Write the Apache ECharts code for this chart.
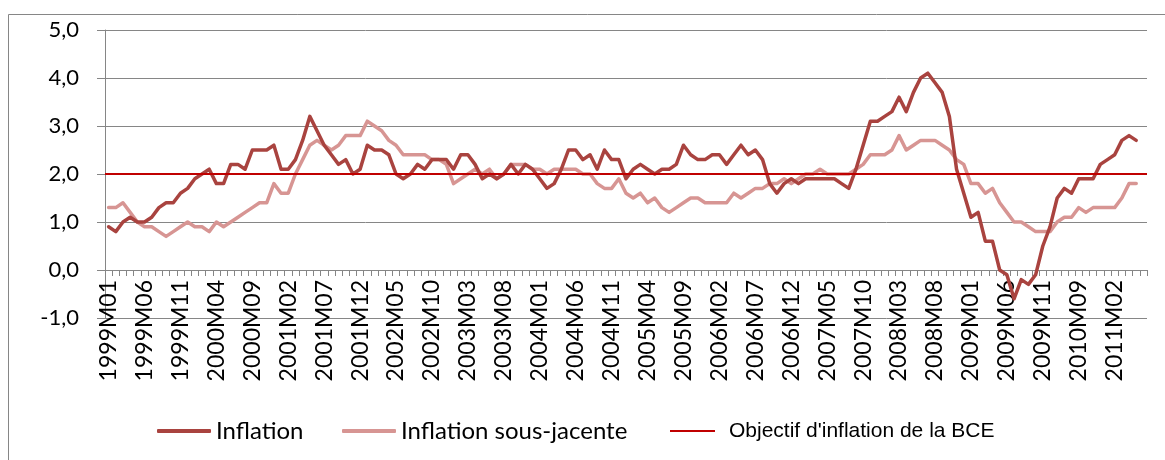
<!DOCTYPE html>
<html>
<head>
<meta charset="utf-8">
<script src="https://cdn.jsdelivr.net/npm/echarts@6.0.0/dist/echarts.min.js"></script>
<style>
    html, body {margin: 0; padding: 0; background: #fff;}
    #chart {width: 1165px; height: 460px;}
</style>
</head>
<body>
<div id="chart"></div>
<script>
// périodes mensuelles (2010M01-M05 absentes de la série d'origine)
const periodRanges = [['1999M01', '2009M12'], ['2010M06', '2011M06']];

// Inflation (IPCH, glissement annuel, %)
const inflation = [
    0.9, 0.8, 1.0, 1.1, 1.0, 1.0, 1.1, 1.3, 1.4, 1.4, 1.6, 1.7,
    1.9, 2.0, 2.1, 1.8, 1.8, 2.2, 2.2, 2.1, 2.5, 2.5, 2.5, 2.6,
    2.1, 2.1, 2.3, 2.7, 3.2, 2.9, 2.6, 2.4, 2.2, 2.3, 2.0, 2.1,
    2.6, 2.5, 2.5, 2.4, 2.0, 1.9, 2.0, 2.2, 2.1, 2.3, 2.3, 2.3,
    2.1, 2.4, 2.4, 2.2, 1.9, 2.0, 1.9, 2.0, 2.2, 2.0, 2.2, 2.1,
    1.9, 1.7, 1.8, 2.1, 2.5, 2.5, 2.3, 2.4, 2.1, 2.5, 2.3, 2.3,
    1.9, 2.1, 2.2, 2.1, 2.0, 2.1, 2.1, 2.2, 2.6, 2.4, 2.3, 2.3,
    2.4, 2.4, 2.2, 2.4, 2.6, 2.4, 2.5, 2.3, 1.8, 1.6, 1.8, 1.9,
    1.8, 1.9, 1.9, 1.9, 1.9, 1.9, 1.8, 1.7, 2.1, 2.6, 3.1, 3.1,
    3.2, 3.3, 3.6, 3.3, 3.7, 4.0, 4.1, 3.9, 3.7, 3.2, 2.1, 1.6,
    1.1, 1.2, 0.6, 0.6, 0.0, -0.1, -0.6, -0.2, -0.3, -0.1, 0.5, 0.9,
    1.5, 1.7, 1.6, 1.9, 1.9, 1.9, 2.2, 2.3, 2.4, 2.7, 2.8, 2.7
];

// Inflation sous-jacente
const core = [
    1.3, 1.3, 1.4, 1.2, 1.0, 0.9, 0.9, 0.8, 0.7, 0.8, 0.9, 1.0,
    0.9, 0.9, 0.8, 1.0, 0.9, 1.0, 1.1, 1.2, 1.3, 1.4, 1.4, 1.8,
    1.6, 1.6, 2.0, 2.3, 2.6, 2.7, 2.6, 2.5, 2.6, 2.8, 2.8, 2.8,
    3.1, 3.0, 2.9, 2.7, 2.6, 2.4, 2.4, 2.4, 2.4, 2.3, 2.3, 2.2,
    1.8, 1.9, 2.0, 2.1, 2.0, 2.1, 1.9, 2.0, 2.2, 2.2, 2.2, 2.1,
    2.1, 2.0, 2.1, 2.1, 2.1, 2.1, 2.0, 2.0, 1.8, 1.7, 1.7, 1.9,
    1.6, 1.5, 1.6, 1.4, 1.5, 1.3, 1.2, 1.3, 1.4, 1.5, 1.5, 1.4,
    1.4, 1.4, 1.4, 1.6, 1.5, 1.6, 1.7, 1.7, 1.8, 1.8, 1.9, 1.8,
    1.9, 2.0, 2.0, 2.1, 2.0, 2.0, 2.0, 2.0, 2.1, 2.2, 2.4, 2.4,
    2.4, 2.5, 2.8, 2.5, 2.6, 2.7, 2.7, 2.7, 2.6, 2.5, 2.3, 2.2,
    1.8, 1.8, 1.6, 1.7, 1.4, 1.2, 1.0, 1.0, 0.9, 0.8, 0.8, 0.8,
    1.0, 1.1, 1.1, 1.3, 1.2, 1.3, 1.3, 1.3, 1.3, 1.5, 1.8, 1.8
];

const bceTarget = 2.0;
const yTicks = [-1, 0, 1, 2, 3, 4, 5];

function buildPeriods(ranges){
    let out = [];
    ranges.forEach(([from, to]) => {
        let y = +from.slice(0, 4), m = +from.slice(5);
        const ye = +to.slice(0, 4), me = +to.slice(5);
        while (y < ye || (y === ye && m <= me)) {
            out.push(y + 'M' + (m < 10 ? '0' + m : m));
            m++;
            if (m > 12) { m = 1; y++; }
        }
    });
    return out;
}
const periods = buildPeriods(periodRanges);

const gray = '#868686';
const darkRed = '#A9433F';
const lightRed = '#D79593';
const targetRed = '#C00000';

let chart = echarts.init(document.getElementById('chart'));
let option = {
    animation: false,
    graphic: [{
        type: 'rect',
        shape: {x: 8.5, y: 14.5, width: 1180, height: 470},
        style: {fill: 'none', stroke: gray, lineWidth: 1},
        silent: true
    }],
    grid: {left: 105, right: 18, top: 30, bottom: 142},
    legend: [
        {
            left: 157, top: 417, padding: 0, selectedMode: false,
            icon: 'roundRect', itemWidth: 54, itemHeight: 4,
            data: ['Inflation'],
            textStyle: {fontFamily: 'Lato', fontSize: 24, color: '#000', lineHeight: 28}
        },
        {
            left: 342, top: 417, padding: 0, selectedMode: false,
            icon: 'roundRect', itemWidth: 54, itemHeight: 4,
            data: ['Inflation sous-jacente'],
            textStyle: {fontFamily: 'Lato', fontSize: 24, color: '#000', lineHeight: 28}
        },
        {
            left: 670, top: 417, padding: 0, selectedMode: false,
            icon: 'rect', itemWidth: 45, itemHeight: 2,
            data: ["Objectif d'inflation de la BCE"],
            textStyle: {fontFamily: 'Liberation Sans', fontSize: 21, color: '#000', lineHeight: 28, padding: [0, 0, 0, 9]}
        }
    ],
    xAxis: {
        type: 'category',
        data: periods,
        boundaryGap: true,
        axisLine: {onZero: true, lineStyle: {color: gray, width: 1}},
        axisTick: {show: true, interval: 0, length: 6, lineStyle: {color: gray}},
        axisLabel: {
            interval: 4,
            rotate: 90,
            // les libellés suivent la ligne du zéro, pas le bas de la grille
            margin: -38,
            color: '#000',
            fontFamily: 'Lato',
            fontSize: 23
        },
        splitLine: {show: false}
    },
    yAxis: {
        type: 'value',
        min: yTicks[0],
        max: yTicks[yTicks.length - 1],
        interval: 1,
        axisLine: {show: true, lineStyle: {color: gray, width: 1}},
        axisTick: {show: true, length: 8, lineStyle: {color: gray}},
        axisLabel: {
            margin: 26,
            color: '#000',
            fontFamily: 'Lato',
            fontSize: 22,
            formatter: (v) => v.toFixed(1).replace('.', ',')
        },
        splitLine: {show: true, lineStyle: {color: gray, width: 1}}
    },
    series: [
        {
            name: 'Inflation',
            type: 'line',
            data: inflation,
            symbol: 'none',
            color: darkRed,
            lineStyle: {color: darkRed, width: 3.5, join: 'round', cap: 'round'},
            z: 3
        },
        {
            name: 'Inflation sous-jacente',
            type: 'line',
            data: core,
            symbol: 'none',
            color: lightRed,
            lineStyle: {color: lightRed, width: 3.5, join: 'round', cap: 'round'},
            z: 2
        },
        {
            name: "Objectif d'inflation de la BCE",
            type: 'line',
            data: [],
            symbol: 'none',
            color: targetRed,
            lineStyle: {color: targetRed, width: 2},
            markLine: {
                silent: true,
                symbol: 'none',
                label: {show: false},
                lineStyle: {color: targetRed, width: 2, type: 'solid'},
                data: [{yAxis: bceTarget}]
            },
            z: 4
        }
    ]
};
chart.setOption(option);
</script>
</body>
</html>
